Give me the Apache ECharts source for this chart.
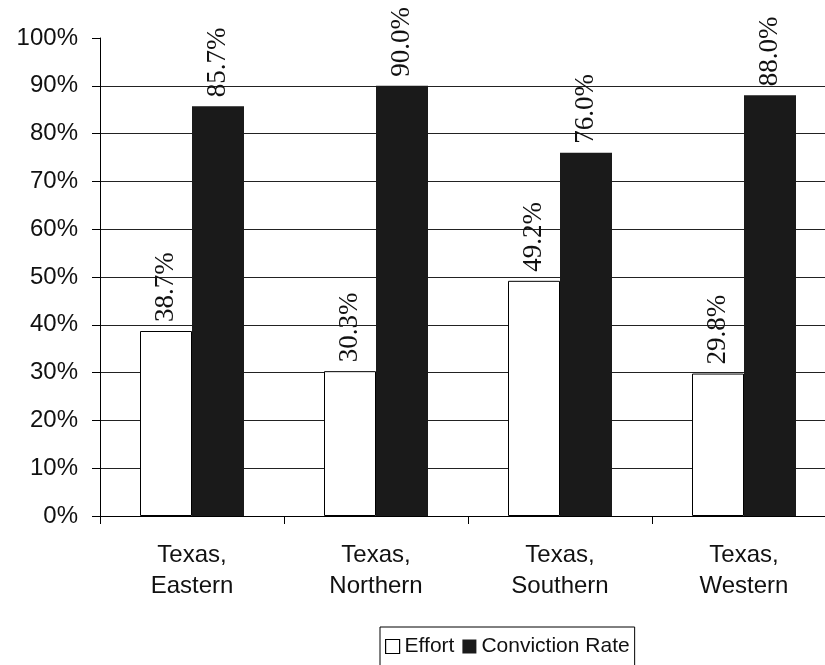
<!DOCTYPE html>
<html>
<head>
<meta charset="utf-8">
<script src="https://cdn.jsdelivr.net/npm/echarts@6/dist/echarts.min.js"></script>
<style>
  html, body { margin: 0; padding: 0; background: #fff; overflow: hidden; }
  /* plot runs slightly past the right edge of the window */
  #chart { width: 845px; height: 665px; }
</style>
</head>
<body>
<div id="chart"></div>
<script>
// District names and the two measured rates (percent)
const districts = ['Texas,\nEastern', 'Texas,\nNorthern', 'Texas,\nSouthern', 'Texas,\nWestern'];
const effort = [38.7, 30.3, 49.2, 29.8];
const convictionRate = [85.7, 90.0, 76.0, 88.0];
const yTicks = [0, 10, 20, 30, 40, 50, 60, 70, 80, 90, 100];

const chart = echarts.init(document.getElementById('chart'));

const barLabel = {
  show: true,
  position: 'top',
  rotate: 90,
  align: 'left',
  verticalAlign: 'middle',
  distance: 9,
  fontFamily: 'Liberation Serif',
  fontSize: 27,
  color: '#111',
  formatter: p => p.value.toFixed(1) + '%'
};

chart.setOption({
  animation: false,
  backgroundColor: '#fff',
  grid: { left: 100, top: 38, width: 736, height: 478, containLabel: false },
  legend: {
    left: 380,
    top: 627,
    orient: 'horizontal',
    itemWidth: 14,
    itemHeight: 14,
    itemGap: 8,
    padding: [9, 5, 10, 5],
    borderColor: '#000',
    borderWidth: 1,
    textStyle: { fontFamily: 'Liberation Sans', fontSize: 21, color: '#111' },
    data: [
      { name: 'Effort', icon: 'rect', itemStyle: { color: '#fff', borderColor: '#000', borderWidth: 1.2 } },
      { name: 'Conviction Rate', icon: 'rect', itemStyle: { color: '#1a1a1a' } }
    ]
  },
  xAxis: {
    type: 'category',
    data: districts,
    boundaryGap: true,
    axisLine: { show: true, lineStyle: { color: '#000', width: 1 } },
    axisTick: { show: true, length: 8, lineStyle: { color: '#000' } },
    axisLabel: {
      margin: 24,
      fontFamily: 'Liberation Sans',
      fontSize: 24,
      lineHeight: 31,
      color: '#111'
    }
  },
  yAxis: {
    type: 'value',
    min: yTicks[0],
    max: yTicks[yTicks.length - 1],
    interval: 10,
    axisLine: { show: true, lineStyle: { color: '#000', width: 1 } },
    axisTick: { show: true, length: 8, lineStyle: { color: '#000' } },
    axisLabel: {
      margin: 22,
      fontFamily: 'Liberation Sans',
      fontSize: 24,
      color: '#111',
      formatter: v => v + '%'
    },
    splitLine: { show: true, showMaxLine: false, lineStyle: { color: '#222', width: 1 } }
  },
  series: [
    {
      name: 'Effort',
      type: 'bar',
      data: effort,
      barWidth: 52,
      barGap: '0%',
      itemStyle: { color: '#fff', borderColor: '#000', borderWidth: 1 },
      label: barLabel
    },
    {
      name: 'Conviction Rate',
      type: 'bar',
      data: convictionRate,
      barWidth: 52,
      barGap: '0%',
      itemStyle: { color: '#1a1a1a' },
      label: barLabel
    }
  ]
});
</script>
</body>
</html>
